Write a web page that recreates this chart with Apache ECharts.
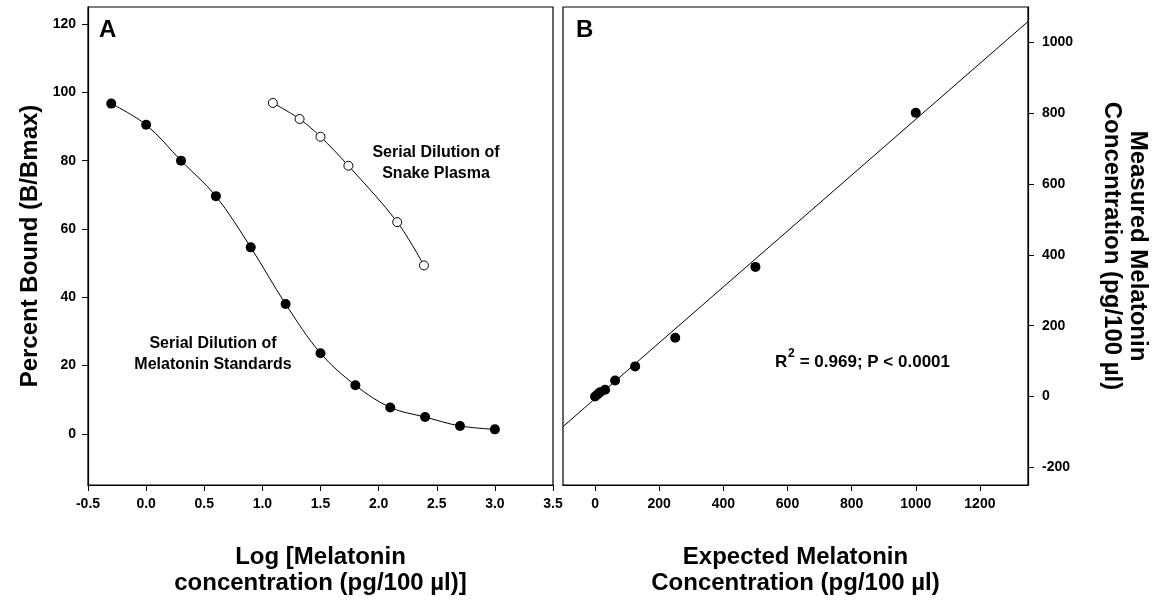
<!DOCTYPE html>
<html>
<head>
<meta charset="utf-8">
<script src="https://cdn.jsdelivr.net/npm/echarts@6/dist/echarts.min.js"></script>
<style>
html, body { margin: 0; padding: 0; background: #fff; }
#chart { width: 1156px; height: 605px; }
</style>
</head>
<body>
<div id="chart"></div>
<script>
// panel A: standard curve + snake plasma dilution
var stdLogConc = [-0.3, 0.0, 0.3, 0.6, 0.9, 1.2, 1.5, 1.8, 2.1, 2.4, 2.7, 3.0];
var stdBound = [96.7, 90.5, 80.0, 69.6, 54.6, 38.0, 23.6, 14.2, 7.7, 4.9, 2.3, 1.3];
var plasmaLogConc = [1.09, 1.32, 1.50, 1.74, 2.16, 2.39];
var plasmaBound = [96.9, 92.2, 87.0, 78.5, 62.0, 49.3];

// panel B: expected vs measured
var expectedConc = [0, 7.8, 15.6, 31.25, 62.5, 125, 250, 500, 1000];
var measuredConc = [0, 6, 12, 19, 45, 85, 166, 366, 801];
var fitX = [-100, 1350];
var fitY = [-85, 1059];

// tick values
var ticksAy = [0, 20, 40, 60, 80, 100, 120];
var ticksBx = [0, 200, 400, 600, 800, 1000, 1200];
var ticksBy = [-200, 0, 200, 400, 600, 800, 1000];

function pairs(xs, ys) {
    var out = [];
    for (var i = 0; i < xs.length; i++) out.push([xs[i], ys[i]]);
    return out;
}
function plain(v) { return String(v); }

var FONT = 'Liberation Sans, Arial, sans-serif';
var tickLabel = { color: '#000', fontFamily: FONT, fontWeight: 'bold', fontSize: 14 };
var nameStyle = { color: '#000', fontFamily: FONT, fontWeight: 'bold', fontSize: 24, lineHeight: 26 };
var axisLine = { show: true, onZero: false, lineStyle: { color: '#000', width: 1.2 } };
var axisTick = { show: true, inside: false, length: 6, lineStyle: { color: '#000', width: 1 } };

var myChart = echarts.init(document.getElementById('chart'));

option = {
    backgroundColor: '#fff',
    animation: false,
    grid: [
        { left: 88, top: 7, width: 465, height: 478, show: true, borderColor: '#000', borderWidth: 1.2, backgroundColor: 'transparent' },
        { left: 563, top: 7, width: 465, height: 478, show: true, borderColor: '#000', borderWidth: 1.2, backgroundColor: 'transparent' }
    ],
    xAxis: [
        {
            gridIndex: 0, type: 'value', min: -0.5, max: 3.5, interval: 0.5,
            axisLine: axisLine, axisTick: axisTick, splitLine: { show: false },
            axisLabel: Object.assign({ margin: 12, formatter: function (v) { return v.toFixed(1); } }, tickLabel),
            name: 'Log [Melatonin\nconcentration (pg/100 µl)]',
            nameLocation: 'middle', nameGap: 59, nameTextStyle: nameStyle
        },
        {
            gridIndex: 1, type: 'value', min: -100, max: 1350,
            axisLine: axisLine, splitLine: { show: false },
            axisTick: Object.assign({ customValues: ticksBx }, axisTick),
            axisLabel: Object.assign({ margin: 12, customValues: ticksBx, formatter: plain }, tickLabel),
            name: 'Expected Melatonin\nConcentration (pg/100 µl)',
            nameLocation: 'middle', nameGap: 59, nameTextStyle: nameStyle
        }
    ],
    yAxis: [
        {
            gridIndex: 0, type: 'value', min: -15, max: 125,
            axisLine: axisLine, splitLine: { show: false },
            axisTick: Object.assign({ customValues: ticksAy }, axisTick),
            axisLabel: Object.assign({ margin: 12, customValues: ticksAy, formatter: plain }, tickLabel),
            name: 'Percent Bound (B/Bmax)',
            nameLocation: 'middle', nameRotate: 90, nameGap: 45, nameTextStyle: nameStyle
        },
        {
            gridIndex: 1, type: 'value', min: -250, max: 1100, position: 'right',
            axisLine: axisLine, splitLine: { show: false },
            axisTick: Object.assign({ customValues: ticksBy }, axisTick),
            axisLabel: Object.assign({ margin: 14, customValues: ticksBy, formatter: plain, align: 'left' }, tickLabel),
            name: 'Measured Melatonin\nConcentration (pg/100 µl)',
            nameLocation: 'middle', nameRotate: -90, nameGap: 71, nameTextStyle: nameStyle
        }
    ],
    series: [
        {
            name: 'Melatonin Standards', type: 'line', xAxisIndex: 0, yAxisIndex: 0,
            data: pairs(stdLogConc, stdBound), smooth: 0.35,
            symbol: 'circle', symbolSize: 10,
            lineStyle: { color: '#000', width: 1 },
            itemStyle: { color: '#000', borderColor: '#000', borderWidth: 0 }
        },
        {
            name: 'Snake Plasma', type: 'line', xAxisIndex: 0, yAxisIndex: 0,
            data: pairs(plasmaLogConc, plasmaBound), smooth: 0.35,
            symbol: 'circle', symbolSize: 9,
            lineStyle: { color: '#000', width: 1 },
            itemStyle: { color: '#fff', borderColor: '#000', borderWidth: 1 }
        },
        {
            name: 'Fit', type: 'line', xAxisIndex: 1, yAxisIndex: 1,
            data: pairs(fitX, fitY), showSymbol: false, symbol: 'none',
            lineStyle: { color: '#000', width: 1 }
        },
        {
            name: 'Measured', type: 'scatter', xAxisIndex: 1, yAxisIndex: 1,
            data: pairs(expectedConc, measuredConc),
            symbol: 'circle', symbolSize: 10,
            itemStyle: { color: '#000', opacity: 1 }
        }
    ],
    graphic: [
        { type: 'text', left: 99, top: 18, style: { text: 'A', fill: '#000', font: 'bold 24px ' + FONT } },
        { type: 'text', left: 576, top: 18, style: { text: 'B', fill: '#000', font: 'bold 24px ' + FONT } },
        { type: 'text', x: 436, y: 142, style: { text: 'Serial Dilution of\nSnake Plasma', fill: '#000', font: 'bold 16px ' + FONT, align: 'center', lineHeight: 21 } },
        { type: 'text', x: 213, y: 333, style: { text: 'Serial Dilution of\nMelatonin Standards', fill: '#000', font: 'bold 16px ' + FONT, align: 'center', lineHeight: 21 } },
        { type: 'text', x: 775, y: 354, style: { text: 'R', fill: '#000', font: 'bold 17px ' + FONT } },
        { type: 'text', x: 788, y: 348, style: { text: '2', fill: '#000', font: 'bold 12px ' + FONT } },
        { type: 'text', x: 795, y: 354, style: { text: ' = 0.969; P < 0.0001', fill: '#000', font: 'bold 17px ' + FONT } }
    ]
};

myChart.setOption(option);
</script>
</body>
</html>
